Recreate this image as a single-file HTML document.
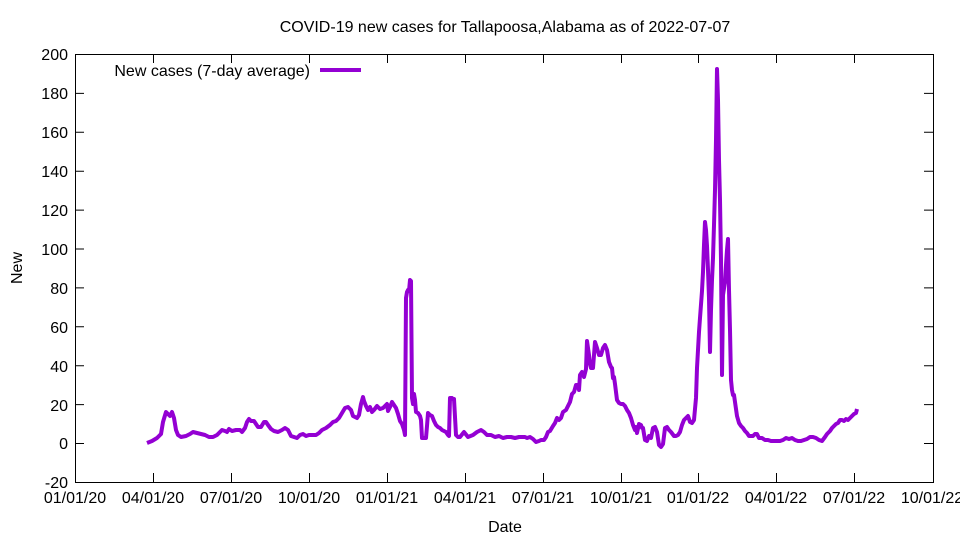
<!DOCTYPE html>
<html><head><meta charset="utf-8"><style>
html,body{margin:0;padding:0;background:#fff;}
svg{display:block;font-family:"Liberation Sans",sans-serif;}
</style></head><body>
<svg width="960" height="540" viewBox="0 0 960 540" xmlns="http://www.w3.org/2000/svg">
<rect width="960" height="540" fill="#fff"/>
<text x="505" y="32" font-size="16" text-anchor="middle">COVID-19 new cases for Tallapoosa,Alabama as of 2022-07-07</text>
<g stroke="#000" stroke-width="1" fill="none">
<rect x="75.5" y="54.5" width="858" height="428"/>
<path d="M75 93.4h9M75 132.3h9M75 171.2h9M75 210.1h9M75 249h9M75 287.9h9M75 326.8h9M75 365.7h9M75 404.6h9M75 443.5h9
M933 93.4h-9M933 132.3h-9M933 171.2h-9M933 210.1h-9M933 249h-9M933 287.9h-9M933 326.8h-9M933 365.7h-9M933 404.6h-9M933 443.5h-9
M153.5 482v-9M231.5 482v-9M309.5 482v-9M387.5 482v-9M465.5 482v-9M543.5 482v-9M621.5 482v-9M698.5 482v-9M776.5 482v-9M854.5 482v-9
M153.5 54v9M231.5 54v9M309.5 54v9M387.5 54v9M465.5 54v9M543.5 54v9M621.5 54v9M698.5 54v9M776.5 54v9M854.5 54v9"/>
</g>
<g font-size="16" text-anchor="end">
<text x="68" y="60">200</text><text x="68" y="99">180</text><text x="68" y="138">160</text><text x="68" y="177">140</text><text x="68" y="216">120</text><text x="68" y="255">100</text><text x="68" y="294">80</text><text x="68" y="333">60</text><text x="68" y="372">40</text><text x="68" y="411">20</text><text x="68" y="449">0</text><text x="68" y="488">-20</text>
</g>
<g font-size="16" text-anchor="middle">
<text x="75" y="503">01/01/20</text><text x="153" y="503">04/01/20</text><text x="231" y="503">07/01/20</text><text x="309" y="503">10/01/20</text><text x="387" y="503">01/01/21</text><text x="465" y="503">04/01/21</text><text x="543" y="503">07/01/21</text><text x="621" y="503">10/01/21</text><text x="698" y="503">01/01/22</text><text x="776" y="503">04/01/22</text><text x="854" y="503">07/01/22</text><text x="932" y="503">10/01/22</text>
<text x="505" y="532">Date</text>
<text transform="translate(22,268) rotate(-90)">New</text>
</g>
<text x="310" y="76" font-size="16" text-anchor="end">New cases (7-day average)</text>
<line x1="320" y1="70" x2="361" y2="70" stroke="#9400D3" stroke-width="4"/>
<polyline fill="none" stroke="#9400D3" stroke-width="4" stroke-linejoin="round" points="147,443 152,441 157,438 161,434 163,422 166,412 168,414 170,416 172,412 174,418 176,430 178,435 181,437 186,436 190,434 193,432 197,433 201,434 205,435 209,437 213,437 217,435 220,432 222,430 225,431 227,432 229,429 232,431 236,430 240,430 242,432 245,428 247,422 249,419 251,421 254,421 256,424 258,427 261,427 264,422 266,422 268,425 271,429 274,431 278,432 282,430 285,428 288,430 291,436 294,437 297,438 300,435 303,434 306,436 309,435 312,435 316,435 319,433 322,430 326,428 330,425 333,422 336,421 339,418 342,413 345,408 348,407 351,410 353,416 355,417 357,418 359,415 361,404 363,397 364,401 366,406 368,410 370,407 372,412 374,410 377,406 380,409 383,408 385,406 387,404 388,411 390,407 392,402 394,405 396,408 398,414 400,421 402,424 404,430 405,435 406,298 407,292 408,290 409,291 410,280 411,281 412,398 413,404 414,394 415,400 416,412 418,413 420,416 421,420 422,438 424,438 426,438 427,426 428,413 430,415 432,416 434,421 436,425 438,427 440,428 442,430 444,431 446,432 448,435 449,436 450,398 452,398 453,399 454,399 456,435 458,437 460,437 464,432 468,437 473,435 477,432 481,430 484,432 487,435 491,435 495,437 499,436 503,438 507,437 511,437 515,438 519,437 522,437 525,437 527,438 530,437 533,439 536,442 539,441 541,440 544,440 546,437 548,432 550,431 553,426 555,423 557,418 559,420 561,418 563,412 566,410 568,406 570,402 572,394 574,392 576,385 578,385 579,390 580,375 582,372 584,377 586,369 587,341 589,355 590,364 591,368 593,368 594,355 595,342 597,348 599,355 601,355 603,348 605,345 607,350 609,362 611,367 612,368 613,378 614,377 615,384 617,400 619,403 621,404 623,404 625,406 627,410 629,413 631,418 633,425 635,430 636,427 637,433 639,424 641,425 642,428 643,428 645,440 647,441 649,436 651,438 653,428 655,427 657,432 659,445 661,447 663,444 665,428 667,427 669,430 671,432 674,436 676,436 678,435 680,432 682,425 684,420 686,418 688,416 690,422 692,423 694,420 696,398 697,368 698,350 699,332 700,318 702,291 703,272 704,245 705,222 706,230 707,246 708,270 709,298 710,352 711,310 712,280 713,258 714,225 715,190 716,140 717,69 718,100 719,160 720,200 721,260 722,375 723,295 725,282 726,265 727,250 728,239 729,290 730,330 731,380 732,390 733,395 734,395 735,402 737,416 739,423 741,426 743,428 745,431 747,433 749,436 751,436 753,436 755,434 757,434 759,438 762,438 765,440 768,440 771,441 774,441 777,441 780,441 783,440 786,438 789,439 792,438 795,440 798,441 801,441 804,440 807,439 810,437 813,437 816,438 819,440 822,441 825,437 827,434 830,431 832,428 834,426 836,424 838,423 840,420 842,420 844,421 846,419 848,420 850,418 852,416 854,414 856,413 857,409"/>
</svg>
</body></html>
